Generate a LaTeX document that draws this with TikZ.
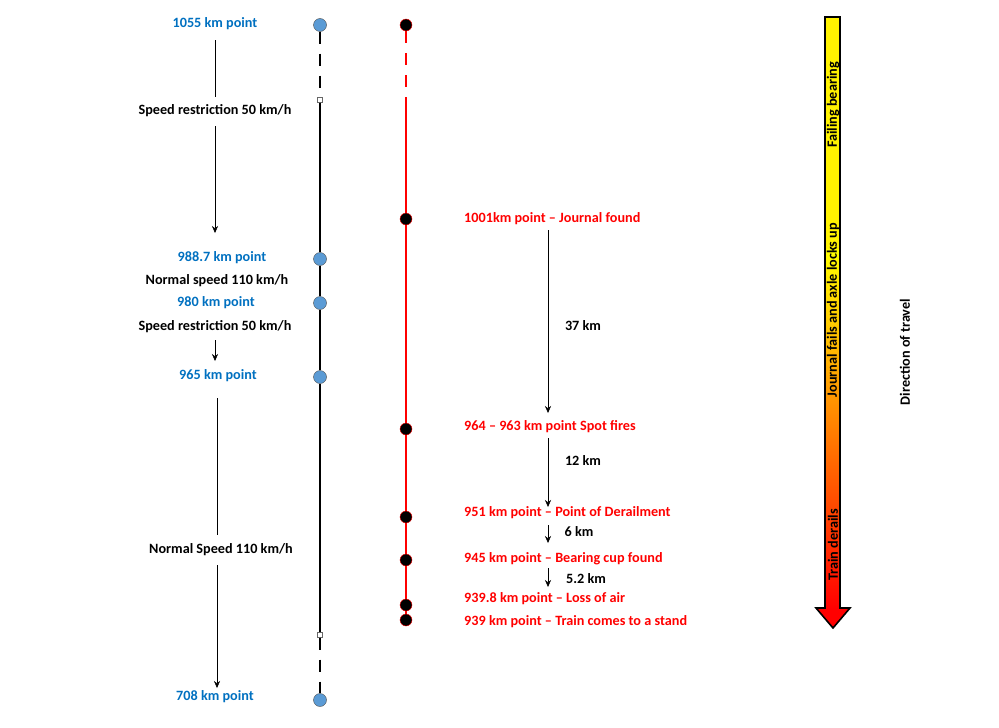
\documentclass[tikz,border=0pt]{standalone}
\usepackage{fontspec}
\setmainfont{Carlito}
\usetikzlibrary{arrows.meta, positioning, calc}
\definecolor{ptblue}{RGB}{0,112,192}
\definecolor{dotblue}{RGB}{91,155,213}

\begin{document}
\begin{tikzpicture}[x=1pt,y=-1pt,
    lbl/.style={font=\fontsize{14.2}{16}\selectfont\bfseries, inner sep=1pt},
    kmblue/.style={lbl, text=ptblue},
    kmred/.style={lbl, text=red, anchor=west},
    bluedot/.style={circle, draw=black!70, fill=dotblue, minimum size=13pt, inner sep=0pt},
    reddot/.style={circle, draw=red, fill=black, minimum size=12pt, inner sep=0pt},
    tick/.style={draw=black!60, fill=white, minimum size=5pt, inner sep=0pt},
    down/.style={-{Stealth[length=7pt,width=6pt]}}]
\useasboundingbox (0,0) rectangle (999,728);
% === left track ===
\node[bluedot] (b1) at (320,25) {};
\node[bluedot] (b2) at (320,259) {};
\node[bluedot] (b3) at (320,303) {};
\node[bluedot] (b4) at (320,377) {};
\node[bluedot] (b5) at (320,700) {};
\node[tick] (t1) at (320,100) {};
\node[tick] (t2) at (320,635) {};
\draw[line width=2pt, dash pattern=on 12pt off 10pt] (b1) -- (t1);
\draw[line width=1.6pt] (t1) -- (b2) -- (b3) -- (b4) -- (t2);
\draw[line width=2pt, dash pattern=on 12pt off 10pt] (t2) -- (b5);
% === right track ===
\node[reddot] (r0) at (406,25) {};
\coordinate (rs) at (406,100);
\node[reddot] (r1) at (406,219) {};
\node[reddot] (r2) at (406,429) {};
\node[reddot] (r3) at (406,517) {};
\node[reddot] (r4) at (406,560) {};
\node[reddot] (r5) at (406,605) {};
\node[reddot] (r6) at (406,620) {};
\draw[red, line width=1.8pt, dash pattern=on 12pt off 10pt] (r0) -- (rs);
\draw[red, line width=1.4pt] (rs) -- (r1) -- (r2) -- (r3) -- (r4) -- (r5) -- (r6);
% === left labels ===
\node[kmblue] (p1055) at (215,24) {1055 km point};
\node[lbl] (sr1) at (215,111) {Speed restriction 50 km/h};
\node[kmblue] (p988) at (222,258) {988.7 km point};
\node[lbl] (ns1) at (217,281) {Normal speed 110 km/h};
\node[kmblue] (p980) at (216,303) {980 km point};
\node[lbl] (sr2) at (215,327) {Speed restriction 50 km/h};
\node[kmblue] (p965) at (218,376) {965 km point};
\node[lbl] (ns2) at (221,550) {Normal Speed 110 km/h};
\node[kmblue] (p708) at (215,697) {708 km point};
\draw (215,40) -- (215,97);
\draw[down] (215,126) -- (215,233);
\draw[down] (215,340) -- (215,361);
\draw (217,398) -- (217,535);
\draw[down] (217,565) -- (217,688);
% === right labels ===
\node[kmred] (e1) at (463,219) {1001km point -- Journal found};
\node[kmred] (e2) at (463,427) {964 -- 963 km point Spot fires};
\node[kmred] (e3) at (463,513) {951 km point -- Point of Derailment};
\node[kmred] (e4) at (463,559) {945 km point -- Bearing cup found};
\node[kmred] (e5) at (463,599) {939.8 km point -- Loss of air};
\node[kmred] (e6) at (463,622) {939 km point -- Train comes to a stand};
\node[lbl] (d1) at (583,326) {37 km};
\node[lbl] (d2) at (583,461) {12 km};
\node[lbl] (d3) at (579,532) {6 km};
\node[lbl] (d4) at (586,579) {5.2 km};
\draw[down] (548,230) -- (548,413);
\draw[down] (548,438) -- (548,507);
\draw[down] (548,525) -- (548,543);
\draw[down] (548,568) -- (548,587);
% === timeline arrow ===
\fill[yellow] (825,17) rectangle (840,250);
\shade[top color=yellow, middle color=orange, bottom color=red] (825,249) rectangle (840,609);
\fill[red] (816,608) -- (850,608) -- (833,628) -- cycle;
\draw[line width=1.6pt] (825,608) -- (825,17) -- (840,17) -- (840,608) -- (850,608) -- (833,628) -- (816,608) -- cycle;
\node[lbl, rotate=90] (fb) at (833,105) {Failing bearing};
\node[lbl, rotate=90] (jf) at (833,310) {Journal fails and axle locks up};
\node[lbl, rotate=90] (td) at (833,545) {Train derails};
\node[lbl, rotate=90] (dir) at (905,352) {Direction of travel};
\end{tikzpicture}
\end{document}
